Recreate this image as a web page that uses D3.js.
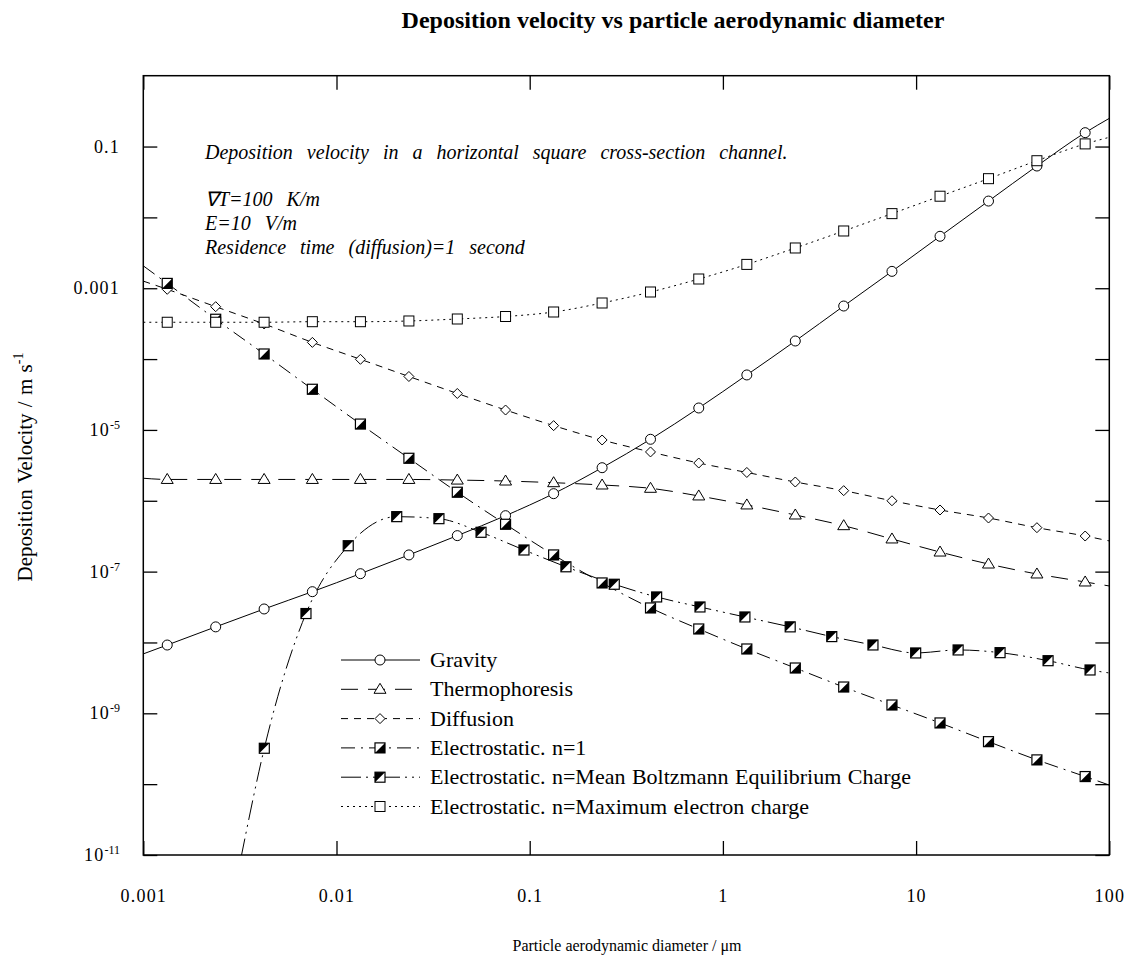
<!DOCTYPE html>
<html>
<head>
<meta charset="utf-8">
<script src="https://cdn.jsdelivr.net/npm/d3@7"></script>
<style>
  body { margin: 0; background: #fff; }
  text { font-family: "Liberation Serif", "Times New Roman", serif; fill: #000; }
</style>
</head>
<body>
<svg id="chart" width="1136" height="972"></svg>
<script>
// Particle aerodynamic diameters (µm) at which the symbols are plotted
const gridDiameters = [0.00133, 0.00237, 0.00422, 0.0075, 0.0133, 0.0237, 0.0422, 0.075,
  0.133, 0.237, 0.422, 0.75, 1.33, 2.37, 4.22, 7.5, 13.3, 23.7, 42.2, 75];

// Deposition velocities (m/s) on the common diameter grid
const gravityV = [9.2e-9, 1.66e-8, 2.97e-8, 5.21e-8, 9.35e-8, 1.72e-7, 3.22e-7, 6.16e-7,
  1.26e-6, 2.93e-6, 7.38e-6, 2.04e-5, 5.97e-5, 1.80e-4, 5.61e-4, 1.73e-3, 5.41e-3, 1.70e-2, 5.31e-2, 0.157];
const thermoV = [2.0e-6, 2.0e-6, 2.0e-6, 2.0e-6, 2.0e-6, 2.0e-6, 1.96e-6, 1.90e-6,
  1.80e-6, 1.67e-6, 1.50e-6, 1.17e-6, 8.73e-7, 6.30e-7, 4.45e-7, 2.89e-7, 1.89e-7, 1.28e-7, 9.26e-8, 7.14e-8];
const diffusionV = [9.66e-4, 5.49e-4, 3.13e-4, 1.72e-4, 9.93e-5, 5.68e-5, 3.27e-5, 1.91e-5,
  1.15e-5, 7.21e-6, 4.89e-6, 3.41e-6, 2.51e-6, 1.84e-6, 1.39e-6, 1.00e-6, 7.41e-7, 5.71e-7, 4.17e-7, 3.18e-7];
const elecN1V = [1.17e-3, 3.65e-4, 1.18e-4, 3.75e-5, 1.21e-5, 3.98e-6, 1.32e-6, 4.66e-7,
  1.72e-7, 6.92e-8, 3.07e-8, 1.55e-8, 8.09e-9, 4.36e-9, 2.35e-9, 1.31e-9, 7.31e-10, 3.98e-10, 2.20e-10, 1.28e-10];
const elecMaxV = [3.31e-4, 3.31e-4, 3.31e-4, 3.37e-4, 3.37e-4, 3.45e-4, 3.68e-4, 3.99e-4,
  4.62e-4, 6.19e-4, 8.85e-4, 1.35e-3, 2.17e-3, 3.70e-3, 6.43e-3, 1.13e-2, 1.99e-2, 3.52e-2, 6.31e-2, 0.109];

// Mean Boltzmann charge series has its own diameters
const boltzDiameters = [0.00423, 0.00695, 0.0115, 0.0205, 0.0339, 0.056, 0.0934, 0.154, 0.274, 0.454,
  0.761, 1.30, 2.23, 3.66, 5.98, 9.95, 16.5, 27.2, 48.2, 79.5];
const elecBoltzV = [3.21e-10, 2.56e-8, 2.32e-7, 5.97e-7, 5.59e-7, 3.59e-7, 2.02e-7, 1.17e-7, 6.63e-8, 4.39e-8,
  3.17e-8, 2.29e-8, 1.66e-8, 1.21e-8, 9.22e-9, 7.11e-9, 7.84e-9, 7.18e-9, 5.53e-9, 4.09e-9];

// Curve end points [diameter, velocity] where each line leaves the plotting frame
const gravityEnds = [[0.001, 6.9e-9], [100, 0.25]];
const thermoEnds = [[0.001, 2.08e-6], [100, 6.27e-8]];
const diffusionEnds = [[0.001, 1.26e-3], [100, 2.71e-7]];
const elecN1Ends = [[0.001, 2.07e-3], [100, 9.7e-11]];
const elecBoltzEnds = [[0.0032, 9e-12], [100, 3.71e-9]];
const elecMaxEnds = [[0.001, 3.31e-4], [100, 0.135]];

const seriesNames = ["Gravity", "Thermophoresis", "Diffusion", "Electrostatic. n=1",
  "Electrostatic. n=Mean Boltzmann Equilibrium Charge", "Electrostatic. n=Maximum electron charge"];

const xTickValues = [0.001, 0.01, 0.1, 1, 10, 100];
const xTickLabels = ["0.001", "0.01", "0.1", "1", "10", "100"];
const yTickValues = [1e-11, 1e-10, 1e-9, 1e-8, 1e-7, 1e-6, 1e-5, 1e-4, 1e-3, 1e-2, 1e-1];
const yLabelValues = [1e-1, 1e-3, 1e-5, 1e-7, 1e-9, 1e-11];
const yLabelMantissa = ["0.1", "0.001", "10", "10", "10", "10"];
const yLabelExponent = ["", "", "-5", "-7", "-9", "-11"];

const annotationTitle = "Deposition velocity in a horizontal square cross-section channel.";
const annotationLines = ["\u2207T=100 K/m", "E=10 V/m", "Residence time (diffusion)=1 second"];

// ---- layout ----
const svg = d3.select("#chart");
const frameL = 143.3, frameR = 1109.3, frameT = 75.7, frameB = 855;
const x = d3.scaleLog().domain([0.001, 100]).range([frameL, frameR]);
const y = d3.scaleLog().domain([1e-11, 1]).range([frameB, frameT]);

svg.append("defs").append("clipPath").attr("id", "plotClip")
  .append("rect").attr("x", frameL).attr("y", frameT).attr("width", frameR - frameL).attr("height", frameB - frameT);

// Title
svg.append("text").attr("x", 673).attr("y", 28).attr("text-anchor", "middle")
  .attr("font-size", 24).attr("font-weight", "bold")
  .text("Deposition velocity vs particle aerodynamic diameter");

// Frame
svg.append("rect").attr("x", frameL).attr("y", frameT).attr("width", frameR - frameL).attr("height", frameB - frameT)
  .attr("fill", "none").attr("stroke", "#000").attr("stroke-width", 1.5);

// Axes (ticks drawn inward)
const xBottom = d3.axisBottom(x).tickValues(xTickValues).tickSize(-14).tickFormat((d, i) => xTickLabels[i]).tickPadding(34);
const gxb = svg.append("g").attr("transform", `translate(0,${frameB})`).call(xBottom);
const gxt = svg.append("g").attr("transform", `translate(0,${frameT})`)
  .call(d3.axisTop(x).tickValues(xTickValues).tickSize(-14).tickFormat(""));
const gyl = svg.append("g").attr("transform", `translate(${frameL},0)`)
  .call(d3.axisLeft(y).tickValues(yTickValues).tickSize(-14).tickFormat(""));
const gyr = svg.append("g").attr("transform", `translate(${frameR},0)`)
  .call(d3.axisRight(y).tickValues(yTickValues).tickSize(-14).tickFormat(""));
[gxb, gxt, gyl, gyr].forEach(g => {
  g.select(".domain").remove();
  g.selectAll(".tick line").attr("stroke", "#000").attr("stroke-width", 1.3);
});
gxb.selectAll(".tick text").attr("font-size", 18).attr("letter-spacing", 1.2)
  .attr("font-family", "Liberation Serif, serif").attr("fill", "#000");

// y tick labels with exponents
const yl = svg.append("g");
yLabelValues.forEach((v, i) => {
  const t = yl.append("text").attr("x", 120).attr("y", y(v) + 6).attr("text-anchor", "end")
    .attr("font-size", 18).attr("letter-spacing", 1.2);
  t.append("tspan").text(yLabelMantissa[i]);
  if (yLabelExponent[i]) {
    t.append("tspan").attr("dy", -7).attr("font-size", 12).attr("letter-spacing", 0).text(yLabelExponent[i]);
  }
});

// Axis titles
svg.append("text").attr("x", 627).attr("y", 951).attr("text-anchor", "middle").attr("font-size", 16)
  .text("Particle aerodynamic diameter / \u03bcm");
const yt = svg.append("text").attr("transform", "translate(32,467) rotate(-90)").attr("text-anchor", "middle")
  .attr("font-size", 21).attr("word-spacing", 1);
yt.append("tspan").text("Deposition Velocity / m s");
yt.append("tspan").attr("dy", -9).attr("font-size", 14).text("-1");

// Annotation block
svg.append("text").attr("x", 205).attr("y", 159).attr("font-size", 20).attr("font-style", "italic")
  .attr("word-spacing", 9).text(annotationTitle);
annotationLines.forEach((s, i) => {
  svg.append("text").attr("x", 205).attr("y", 206 + i * 24).attr("font-size", 20).attr("font-style", "italic")
    .attr("word-spacing", 9).text(s);
});

// ---- series ----
const lineGen = d3.line().x(d => x(d[0])).y(d => y(d[1])).curve(d3.curveMonotoneX);

function makeSeries(ds, vs, ends) {
  const pts = ds.map((d, i) => [d, vs[i]]);
  return { line: [ends[0], ...pts, ends[1]], marks: pts };
}

const series = [
  { data: makeSeries(gridDiameters, gravityV, gravityEnds), dash: null, marker: "circle" },
  { data: makeSeries(gridDiameters, thermoV, thermoEnds), dash: "17,10", marker: "triangle" },
  { data: makeSeries(gridDiameters, diffusionV, diffusionEnds), dash: "7,6", marker: "diamond" },
  { data: makeSeries(gridDiameters, elecN1V, elecN1Ends), dash: "14,6,2,6", marker: "halfLR" },
  { data: makeSeries(boltzDiameters, elecBoltzV, elecBoltzEnds), dash: "20,5,2,5,2,5", marker: "halfUL" },
  { data: makeSeries(gridDiameters, elecMaxV, elecMaxEnds), dash: "2,4", marker: "square" }
];

function drawMarker(g, type, cx, cy) {
  const s = 5;
  if (type === "circle") {
    g.append("circle").attr("cx", cx).attr("cy", cy).attr("r", 5)
      .attr("fill", "#fff").attr("stroke", "#000").attr("stroke-width", 1);
  } else if (type === "triangle") {
    g.append("path").attr("d", `M${cx},${cy - 6}L${cx + 6},${cy + 4}L${cx - 6},${cy + 4}Z`)
      .attr("fill", "#fff").attr("stroke", "#000").attr("stroke-width", 1);
  } else if (type === "diamond") {
    g.append("path").attr("d", `M${cx},${cy - 5}L${cx + 5},${cy}L${cx},${cy + 5}L${cx - 5},${cy}Z`)
      .attr("fill", "#fff").attr("stroke", "#000").attr("stroke-width", 1);
  } else if (type === "square") {
    g.append("rect").attr("x", cx - s).attr("y", cy - s).attr("width", 2 * s).attr("height", 2 * s)
      .attr("fill", "#fff").attr("stroke", "#000").attr("stroke-width", 1);
  } else {
    g.append("rect").attr("x", cx - s).attr("y", cy - s).attr("width", 2 * s).attr("height", 2 * s)
      .attr("fill", "#fff").attr("stroke", "#000").attr("stroke-width", 1.2);
    const tri = type === "halfLR"
      ? `M${cx + s},${cy - s}L${cx + s},${cy + s}L${cx - s},${cy + s}Z`
      : `M${cx - s},${cy - s}L${cx + s},${cy - s}L${cx - s},${cy + s}Z`;
    g.append("path").attr("d", tri).attr("fill", "#000");
  }
}

const plot = svg.append("g").attr("clip-path", "url(#plotClip)");
series.forEach(s => {
  plot.append("path").attr("d", lineGen(s.data.line)).attr("fill", "none").attr("stroke", "#000")
    .attr("stroke-width", 1).attr("stroke-dasharray", s.dash);
});
series.forEach(s => {
  const g = plot.append("g");
  s.data.marks.forEach(p => drawMarker(g, s.marker, x(p[0]), y(p[1])));
});

// ---- legend ----
const legend = svg.append("g");
seriesNames.forEach((name, i) => {
  const ly = 660 + i * 29.3;
  legend.append("line").attr("x1", 341).attr("x2", 420).attr("y1", ly).attr("y2", ly)
    .attr("stroke", "#000").attr("stroke-width", 1).attr("stroke-dasharray", series[i].dash);
  drawMarker(legend, series[i].marker, 380, ly);
  legend.append("text").attr("x", 430).attr("y", ly + 7).attr("font-size", 22).attr("word-spacing", 1)
    .text(name);
});
</script>
</body>
</html>
